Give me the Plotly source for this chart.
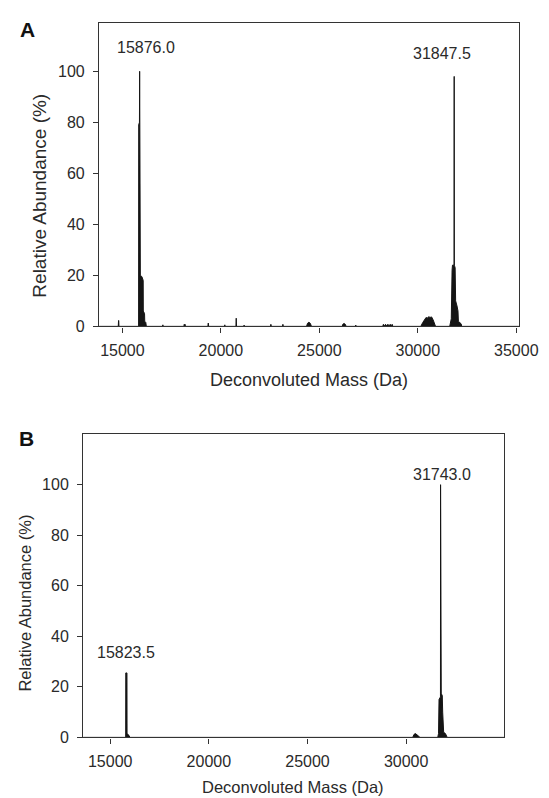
import plotly.graph_objects as go

# ---------------- data ----------------
# Panel A: deconvoluted spectrum (mass in Da, relative abundance in %)
mass_a = [13815, 14790, 14805, 14815, 14825, 14840,
          15822, 15828, 15866, 15876, 15884, 15905, 15912, 15990, 16056, 16062, 16125, 16135, 16190, 16215,
          17040, 17055, 17070,
          18120, 18140, 18160, 18180, 18200,
          19340, 19360, 19380,
          20185, 20200, 20215,
          20765, 20780, 20795,
          21165, 21180, 21195,
          22520, 22540, 22560,
          23130, 23150, 23170,
          24350, 24400, 24470, 24540, 24600,
          26160, 26200, 26260, 26320, 26360,
          26835, 26850, 26865,
          28220, 28250, 28300, 28360, 28420, 28480, 28540, 28600, 28650, 28700, 28730,
          30150, 30250, 30350, 30420, 30480, 30550, 30620, 30700, 30780, 30850, 30900,
          31620, 31650, 31700, 31740, 31760, 31842, 31847.5, 31853, 31895, 31920, 31990, 32040, 32060, 32200, 32230,
          35137]
abund_a = [0, 0, 2.3, 2.3, 0, 0,
           0, 79, 80, 100, 80, 78, 20, 19.5, 18, 6, 5, 2, 1.5, 0,
           0, 0.6, 0,
           0, 0.8, 0.3, 0.8, 0,
           0, 1.3, 0,
           0, 0.6, 0,
           0, 3.2, 0,
           0, 0.5, 0,
           0, 0.8, 0,
           0, 0.8, 0,
           0, 1.2, 1.6, 1.2, 0,
           0, 0.9, 1.1, 0.8, 0,
           0, 0.5, 0,
           0, 0.8, 0.3, 0.8, 0.3, 0.8, 0.3, 0.8, 0.3, 0.8, 0,
           0, 1.5, 2.5, 3.5, 3.2, 3.8, 3.5, 3.7, 2.5, 1.2, 0,
           0, 1, 3, 22, 24, 24, 98, 24, 23, 10, 8, 6, 2, 1, 0,
           0]
peaks_a = [15876.0, 31847.5]
peak_labels_a = ["15876.0", "31847.5"]

# Panel B
mass_b = [13630, 15785, 15790, 15850, 15855, 15950, 16000,
          30330, 30400, 30470, 30550, 30650, 30700,
          31600, 31640, 31665, 31700, 31720, 31738, 31743, 31748, 31780, 31800, 31830, 31850, 31870, 31900, 31990, 32050, 32080,
          34970]
abund_b = [0, 0, 25.5, 25.5, 1.5, 0.8, 0,
           0, 1.2, 1.5, 1.0, 0.3, 0,
           0, 1.5, 15, 16, 15.5, 16, 100, 14, 12, 17, 16.5, 10, 3, 2, 1.5, 0.5, 0,
           0]
peaks_b = [15823.5, 31743.0]
peak_labels_b = ["15823.5", "31743.0"]

xticks_a = [15000, 20000, 25000, 30000, 35000]
xticks_b = [15000, 20000, 25000, 30000]
yticks = [0, 20, 40, 60, 80, 100]

# ---------------- figure ----------------
W, H = 549, 798
FONT = "Liberation Sans, Arial, sans-serif"
TXT = "#2a2a2a"
LINE = "#333333"


def px_x(p):
    return p / W


def px_y(p):
    return 1 - p / H


fig = go.Figure()
fig.add_trace(go.Scatter(x=mass_a, y=abund_a, mode="lines", fill="tozeroy",
                         line=dict(color="#151515", width=1), fillcolor="#151515",
                         xaxis="x", yaxis="y", showlegend=False, hoverinfo="skip"))
fig.add_trace(go.Scatter(x=mass_b, y=abund_b, mode="lines", fill="tozeroy",
                         line=dict(color="#151515", width=1), fillcolor="#151515",
                         xaxis="x2", yaxis="y2", showlegend=False, hoverinfo="skip"))

axis_common = dict(showline=True, mirror=True, linecolor=LINE, linewidth=1.3,
                   ticks="outside", ticklen=5, tickwidth=1.2, tickcolor=LINE,
                   showgrid=False, zeroline=False, ticklabeloverflow="allow",
                   tickfont=dict(family=FONT, size=16, color=TXT))

fig.update_layout(
    width=W, height=H, autosize=False,
    margin=dict(l=0, r=0, t=0, b=0),
    paper_bgcolor="white", plot_bgcolor="white",
    xaxis=dict(domain=[px_x(94.5), px_x(530.3)], range=[13815, 35137], anchor="y",
               tickvals=xticks_a, ticktext=[str(v) for v in xticks_a],
               ticklabelstandoff=4, **axis_common),
    yaxis=dict(domain=[px_y(322), px_y(15)], range=[0, 119], anchor="x",
               tickvals=yticks, ticktext=[str(v) for v in yticks],
               ticklabelstandoff=5, **axis_common),
    xaxis2=dict(domain=[px_x(78), px_x(515)], range=[13630, 34970], anchor="y2",
                tickvals=xticks_b, ticktext=[str(v) for v in xticks_b],
                ticklabelstandoff=4, **axis_common),
    yaxis2=dict(domain=[px_y(737.7), px_y(431)], range=[0, 120], anchor="x2",
                tickvals=yticks, ticktext=[str(v) for v in yticks],
                ticklabelstandoff=5, **axis_common),
)

ann = []
# panel letters
ann.append(dict(text="<b>A</b>", x=px_x(20), y=px_y(22), xref="paper", yref="paper",
                showarrow=False, font=dict(family=FONT, size=21, color="#111"),
                xanchor="center", yanchor="middle"))
ann.append(dict(text="<b>B</b>", x=px_x(19), y=px_y(435), xref="paper", yref="paper",
                showarrow=False, font=dict(family=FONT, size=21, color="#111"),
                xanchor="center", yanchor="middle"))
# axis titles
ann.append(dict(text="Deconvoluted Mass (Da)", x=px_x(312), y=px_y(376), xref="paper", yref="paper",
                showarrow=False, font=dict(family=FONT, size=18, color=TXT),
                xanchor="center", yanchor="middle"))
ann.append(dict(text="Relative Abundance (%)", x=px_x(33), y=px_y(190), xref="paper", yref="paper",
                showarrow=False, textangle=-90, font=dict(family=FONT, size=19, color=TXT),
                xanchor="center", yanchor="middle"))
ann.append(dict(text="Deconvoluted Mass (Da)", x=px_x(296), y=px_y(788), xref="paper", yref="paper",
                showarrow=False, font=dict(family=FONT, size=16.5, color=TXT),
                xanchor="center", yanchor="middle"))
ann.append(dict(text="Relative Abundance (%)", x=px_x(18), y=px_y(602), xref="paper", yref="paper",
                showarrow=False, textangle=-90, font=dict(family=FONT, size=16.5, color=TXT),
                xanchor="center", yanchor="middle"))

# peak labels
label_pos_a = [(109.5, 6), (107, -12)]
for pk, lab, (yy, xs) in zip(peaks_a, peak_labels_a, label_pos_a):
    ann.append(dict(text=lab, x=pk, y=yy, xref="x", yref="y", xshift=xs, showarrow=False,
                    font=dict(family=FONT, size=16, color=TXT), xanchor="center", yanchor="middle"))
label_pos_b = [(33.6, 0), (104, 1)]
for pk, lab, (yy, xs) in zip(peaks_b, peak_labels_b, label_pos_b):
    ann.append(dict(text=lab, x=pk, y=yy, xref="x2", yref="y2", xshift=xs, showarrow=False,
                    font=dict(family=FONT, size=16, color=TXT), xanchor="center", yanchor="middle"))

fig.update_layout(annotations=ann)
fig.write_html("out.html")
